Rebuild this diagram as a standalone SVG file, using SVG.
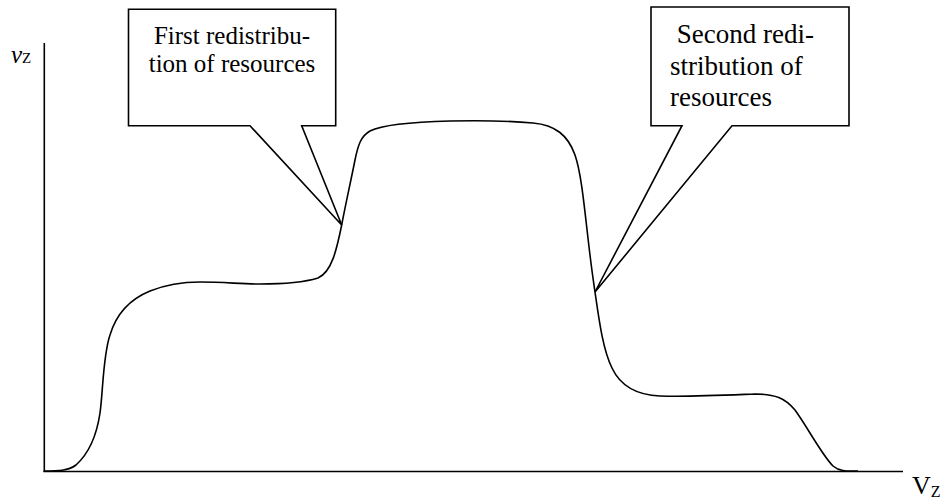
<svg xmlns="http://www.w3.org/2000/svg" width="946" height="500" viewBox="0 0 946 500">
<style>
  .ln { fill: none; stroke: #000; stroke-width: 1.6; }
  .box { fill: #fff; stroke: #000; stroke-width: 1.6; stroke-linejoin: miter; }
  .t { font-family: "Liberation Serif", "Times New Roman", serif; fill: #000; }
</style>
<rect width="946" height="500" fill="#fff"/>
<g id="axes">
  <line class="ln" x1="44.3" y1="43" x2="44.3" y2="471.5" stroke-width="2"/>
  <line class="ln" x1="43.3" y1="471.5" x2="903" y2="471.5" stroke-width="2"/>
  <text class="t" x="11" y="63" font-size="25" font-style="italic">v<tspan font-size="15" font-style="normal">Z</tspan></text>
  <text class="t" x="912" y="494" font-size="26">V<tspan font-size="16" dy="3">Z</tspan></text>
</g>
<g id="curve">
  <path class="ln" d="M44,471 C58,471 68,471 76,465 C86,456 96,440 100,413 C103,392 103,355 110,335 C116,315 128,300 150,291 C165,285 180,282 200,282 C225,282 240,284 260,284 C285,284 305,282 318,278 C332,272 337,248 341.7,225 C345,207 350,185 355,160 C358,145 361,136 370,131 C382,125 410,122 450,121 C490,120 510,121 533,123 C555,125 568,135 575,155 C582,175 585,215 590,255 C592,272 594,285 595,292 C599,320 603,350 612,368 C620,385 635,395 660,396 C690,397 730,395 755,394 C775,394 785,398 795,410 C808,428 822,455 833,466 C840,472 848,471 858,471"/>
</g>
<g id="callout1">
  <path class="box" d="M128.5,9.3 H335.7 V125.7 H301.7 L341.7,225 L250,125.7 H128.5 Z"/>
  <text class="t" font-size="25" text-anchor="middle"><tspan x="232" y="44">First redistribu-</tspan><tspan x="232" y="72">tion of resources</tspan></text>
</g>
<g id="callout2">
  <path class="box" d="M651,7 H849 V125.7 H732 L595,292 L682,125.7 H651 Z"/>
  <text class="t" font-size="27"><tspan x="670" y="43" xml:space="preserve"> Second redi-</tspan><tspan x="670" y="74.5">stribution of</tspan><tspan x="670" y="106">resources</tspan></text>
</g>
</svg>
